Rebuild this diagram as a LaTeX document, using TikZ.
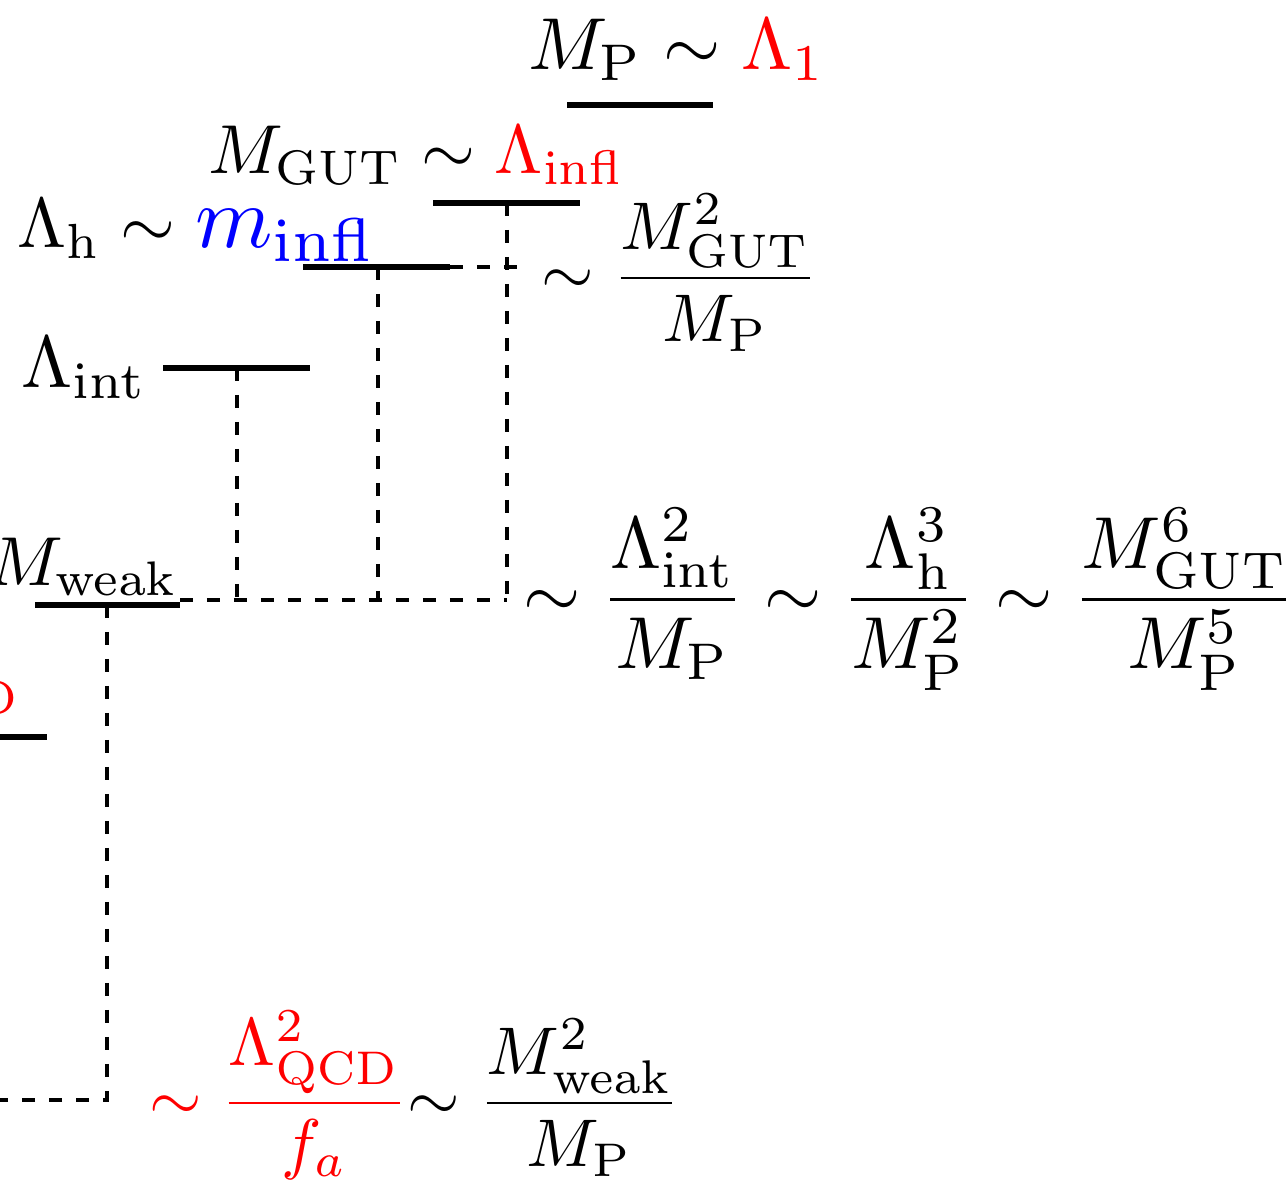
\documentclass[tikz,border=0pt]{standalone}
\usepackage{amsmath}
\usepackage{graphicx}
\begin{document}
\begin{tikzpicture}[x=0.163pt,y=-0.163pt,
  level/.style={line width=0.85pt},
  link/.style={line width=0.5pt,dash pattern=on 2.2pt off 2.2pt},
  lab/.style={inner sep=0pt,anchor=base west},
  labr/.style={inner sep=0pt,anchor=base east}]
\useasboundingbox (0,0) rectangle (1286,1182);
\clip (0,0) rectangle (1286,1182);
% level endpoints
\coordinate (pL) at (567,105); \coordinate (pR) at (713,105);
\coordinate (gL) at (433,203); \coordinate (gR) at (580,203);
\coordinate (hL) at (303,267); \coordinate (hR) at (450,267);
\coordinate (iL) at (163,368); \coordinate (iR) at (310,368);
\coordinate (wL) at (35,605);  \coordinate (wR) at (180,605);
\coordinate (qL) at (-120,737); \coordinate (qR) at (47,737);
% link points
\coordinate (g0) at (507,203); \coordinate (g1) at (507,600);
\coordinate (h0) at (378,267); \coordinate (h1) at (378,600);
\coordinate (i0) at (237,368); \coordinate (i1) at (237,600);
\coordinate (wd) at (180,600);
\coordinate (hE) at (522,267);
\coordinate (w0) at (107,605); \coordinate (w1) at (107,1100);
\coordinate (qE) at (-60,1100);
% levels
\draw[level] (pL) -- (pR);
\draw[level] (gL) -- (gR);
\draw[level] (hL) -- (hR);
\draw[level] (iL) -- (iR);
\draw[level] (wL) -- (wR);
\draw[level] (qL) -- (qR);
% links
\draw[link] (g0) -- (g1);
\draw[link] (h0) -- (h1);
\draw[link] (i0) -- (i1);
\draw[link] (wd) -- (g1);
\draw[link] (hR) -- (hE);
\draw[link] (w0) -- (w1) -- (qE);
% labels
\node[lab,scale=1.2] (tP) at (527,69) {$M_{\rm P}\sim{\color{red}\Lambda_1}$};
\node[lab,scale=1.13] (tG) at (207,174) {$M_{\rm GUT}\sim{\color{red}\Lambda_{\rm infl}}$};
\node[lab,scale=1.15] (tH) at (16,248) {$\Lambda_{\rm h}\sim\mbox{\scalebox{1.25}{\color{blue}$m_{\rm infl}$}}$};
\node[lab,scale=1.2] (tI) at (20,387) {$\Lambda_{\rm int}$};
\node[labr,scale=1.13] (tW) at (180,585) {$M_{\rm weak}$};
\node[labr,red,scale=1.13] (tQ) at (22,704) {$\Lambda_{\rm QCD}$};
\node[lab,scale=1.1] (fH) at (540,295) {$\sim\displaystyle\frac{M_{\rm GUT}^2}{M_{\rm P}}$};
\node[lab,scale=1.2] (fW) at (522,618) {$\sim\displaystyle\frac{\Lambda_{\rm int}^2}{M_{\rm P}}\sim\frac{\Lambda_{\rm h}^3}{M_{\rm P}^2}\sim\frac{M_{\rm GUT}^6}{M_{\rm P}^5}$};
\node[lab,scale=1.1] (fQ) at (148,1120) {{\color{red}$\sim\displaystyle\frac{\Lambda_{\rm QCD}^2}{f_a}$}$\sim\displaystyle\frac{M_{\rm weak}^2}{M_{\rm P}}$};
\end{tikzpicture}
\end{document}
